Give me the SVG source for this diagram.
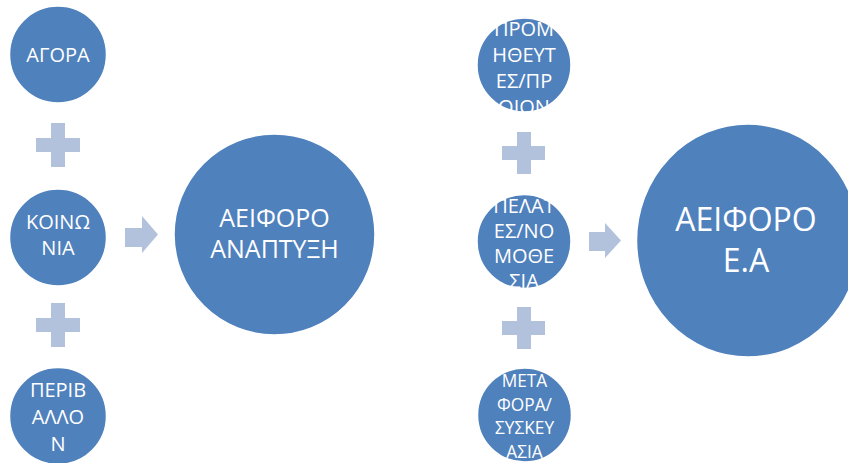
<svg xmlns="http://www.w3.org/2000/svg" width="848" height="463" viewBox="0 0 848 463">
<style>
.node{fill:#4F81BD;stroke:#FFFFFF;stroke-width:1.5}
.t{fill:#FFFFFF;font-family:"Open Sans","Noto Sans",sans-serif;text-anchor:middle}
.s20{font-size:20px}
.s17{font-size:17.3px}
.s25{font-size:25px}
.s32{font-size:32px}
.link{fill:#B3C2DC}
</style>
<rect width="848" height="463" fill="#FFFFFF"/>
<g id="connectors">
  <path class="link" d="M51,123h14v15h15v14h-15v15h-14v-15h-15v-14h15z"/>
  <path class="link" d="M51,303h14v15h15v14h-15v15h-14v-15h-15v-14h15z"/>
  <path class="link" d="M517,132h14v14h14v14h-14v14h-14v-14h-15v-14h15z"/>
  <path class="link" d="M517,307h14v14h14v14h-14v14h-14v-14h-15v-14h15z"/>
  <path class="link" d="M125,228h17v-12l16,18.5l-16,18.5v-6h-17z"/>
  <path class="link" d="M589,232h16v-9l16,17.5l-16,17.5v-7h-16z"/>
</g>
<g id="node-agora">
  <circle class="node" cx="58" cy="54.5" r="48.5"/>
  <text class="t s20" x="58" y="62">ΑΓΟΡΑ</text>
</g>
<g id="node-koinonia">
  <circle class="node" cx="58" cy="237.5" r="48.5"/>
  <text class="t s20" x="58" y="229">ΚΟΙΝΩ</text>
  <text class="t s20" x="58" y="255">ΝΙΑ</text>
</g>
<g id="node-perivallon">
  <circle class="node" cx="58" cy="416" r="48.5"/>
  <text class="t s20" x="58" y="397">ΠΕΡΙΒ</text>
  <text class="t s20" x="58" y="424">ΑΛΛΟ</text>
  <text class="t s20" x="58" y="451">Ν</text>
</g>
<g id="node-aeiforo-anaptyxi">
  <circle class="node" cx="274.5" cy="234.5" r="100.5"/>
  <text class="t s25" x="274.5" y="227">ΑΕΙΦΟΡΟ</text>
  <text class="t s25" x="274.5" y="258">ΑΝΑΠΤΥΞΗ</text>
</g>
<g id="node-promitheutes">
  <circle class="node" cx="524" cy="65" r="47"/>
  <text class="t s20" x="524" y="36">ΠΡΟΜ</text>
  <text class="t s20" x="524" y="62">ΗΘΕΥΤ</text>
  <text class="t s20" x="524" y="88">ΕΣ/ΠΡ</text>
  <text class="t s20" x="524" y="114">ΟΙΟΝ</text>
</g>
<g id="node-pelates">
  <circle class="node" cx="524" cy="241.5" r="47"/>
  <text class="t s20" x="524" y="212.5">ΠΕΛΑΤ</text>
  <text class="t s20" x="524" y="237.5">ΕΣ/ΝΟ</text>
  <text class="t s20" x="524" y="262.5">ΜΟΘΕ</text>
  <text class="t s20" x="524" y="287.5">ΣΙΑ</text>
</g>
<g id="node-metafora">
  <circle class="node" cx="524.5" cy="415" r="47"/>
  <text class="t s17" x="524.5" y="387">ΜΕΤΑ</text>
  <text class="t s17" x="524.5" y="410.5">ΦΟΡΑ/</text>
  <text class="t s17" x="524.5" y="434">ΣΥΣΚΕΥ</text>
  <text class="t s17" x="524.5" y="457.5">ΑΣΙΑ</text>
</g>
<g id="node-aeiforo-ea">
  <ellipse class="node" cx="748" cy="240.5" rx="111.5" ry="116.5"/>
  <text class="t s32" x="746" y="231">ΑΕΙΦΟΡΟ</text>
  <text class="t s32" x="746" y="272">Ε.Α</text>
</g>
</svg>
